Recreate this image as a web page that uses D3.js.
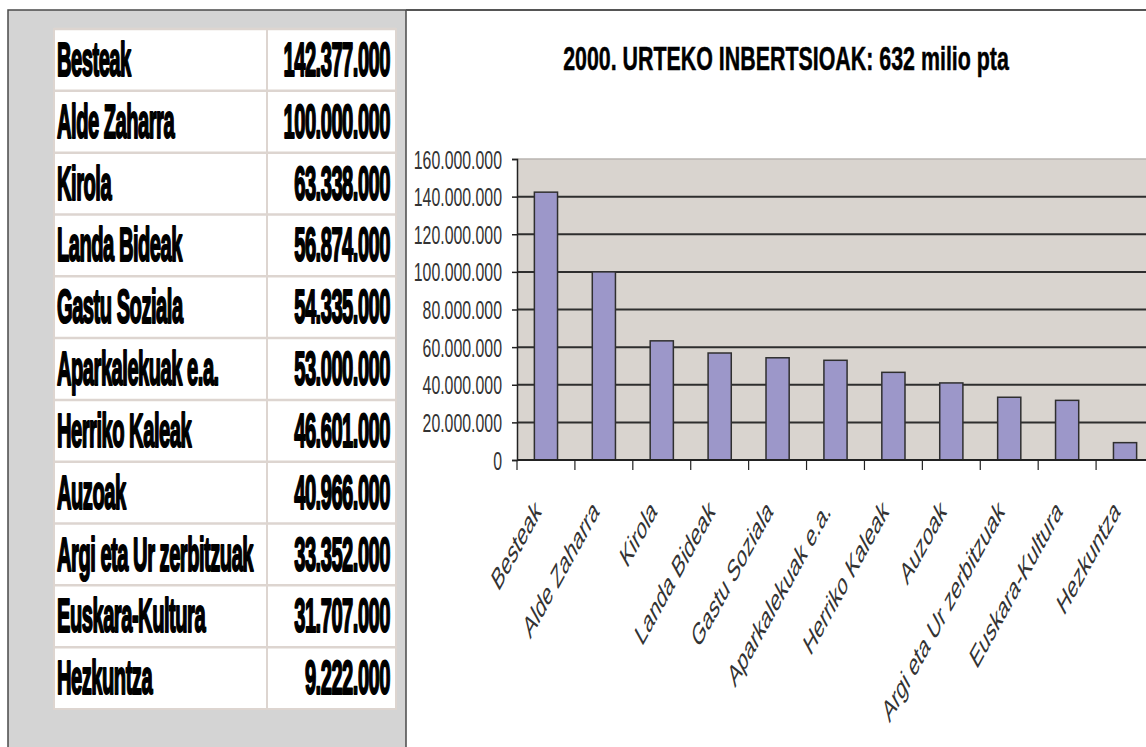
<!DOCTYPE html>
<html>
<head>
<meta charset="utf-8">
<script src="https://cdn.jsdelivr.net/npm/d3@7/dist/d3.min.js"></script>
<style>
  html, body { margin: 0; padding: 0; background: #fff; }
  svg { display: block; }
</style>
</head>
<body>
<svg id="chart" width="1146" height="747"></svg>
<script>
// ---- data ----
const categories = ["Besteak", "Alde Zaharra", "Kirola", "Landa Bideak", "Gastu Soziala",
  "Aparkalekuak e.a.", "Herriko Kaleak", "Auzoak", "Argi eta Ur zerbitzuak", "Euskara-Kultura", "Hezkuntza"];
const values = [142377000, 100000000, 63338000, 56874000, 54335000,
  53000000, 46601000, 40966000, 33352000, 31707000, 9222000];
const yTicks = [0, 20000000, 40000000, 60000000, 80000000, 100000000, 120000000, 140000000, 160000000];
const titleText = "2000. URTEKO INBERTSIOAK: 632 milio pta";

const locale = d3.formatLocale({ decimal: ",", thousands: ".", grouping: [3], currency: ["", ""] });
const fmt = locale.format(",d");

const svg = d3.select("#chart");
const FONT = "'Liberation Sans', Arial, sans-serif";

// ---- left panel (table) ----
svg.append("rect").attr("x", 8).attr("y", 10).attr("width", 398).attr("height", 745)
  .attr("fill", "#d4d4d4").attr("stroke", "#4a4a4a").attr("stroke-width", 1.5);

const tbl = { x0: 54, x1: 396, xMid: 267, y0: 29, y1: 709 };
const rowY = d3.scaleBand().domain(categories).range([tbl.y0, tbl.y1]);

svg.append("rect").attr("x", tbl.x0).attr("y", tbl.y0)
  .attr("width", tbl.x1 - tbl.x0).attr("height", tbl.y1 - tbl.y0)
  .attr("fill", "#fff").attr("stroke", "#ddd5d0").attr("stroke-width", 2);

const rows = svg.append("g").selectAll("g").data(categories).join("g");
rows.append("line").attr("x1", tbl.x0).attr("x2", tbl.x1)
  .attr("y1", d => rowY(d)).attr("y2", d => rowY(d))
  .attr("stroke", "#ddd5d0").attr("stroke-width", 2.5);
svg.append("line").attr("x1", tbl.xMid).attr("x2", tbl.xMid).attr("y1", tbl.y0).attr("y2", tbl.y1)
  .attr("stroke", "#ddd5d0").attr("stroke-width", 2);

const TSX = 0.42;
function tableText(sel) {
  sel.attr("font-family", FONT).attr("font-weight", "bold").attr("font-size", 48)
    .attr("letter-spacing", -1.2)
    .attr("fill", "#000").attr("stroke", "#000").attr("stroke-width", 2.2)
    .attr("stroke-linejoin", "round");
}
rows.append("g")
  .attr("transform", d => `translate(${tbl.x0 + 3},${rowY(d) + 47}) scale(${TSX},1)`)
  .append("text").text(d => d).call(tableText);
rows.append("g")
  .attr("transform", d => `translate(${tbl.x1 - 6},${rowY(d) + 47}) scale(${TSX},1)`)
  .append("text").text((d, i) => fmt(values[i]))
  .attr("text-anchor", "end").call(tableText);

// ---- right panel (chart) ----
svg.append("line").attr("x1", 406).attr("x2", 1146).attr("y1", 10).attr("y2", 10)
  .attr("stroke", "#555").attr("stroke-width", 2);

// title
const tg = svg.append("g").attr("transform", "translate(786,70)");
const tt = tg.append("text").text(titleText)
  .attr("text-anchor", "middle").attr("font-family", FONT).attr("font-weight", "bold")
  .attr("font-size", 34).attr("fill", "#000").attr("stroke", "#000").attr("stroke-width", 0.5);
const tw = tt.node().getComputedTextLength();
tg.attr("transform", `translate(786,70) scale(${446 / tw},1)`);

const plot = { left: 517, right: 1154, top: 159, bottom: 460 };
const x = d3.scaleBand().domain(categories).range([plot.left, plot.right])
  .paddingInner(0.6).paddingOuter(0.3);
const y = d3.scaleLinear().domain([0, 160000000]).range([plot.bottom, plot.top]);

svg.append("rect").attr("x", plot.left).attr("y", plot.top)
  .attr("width", plot.right - plot.left).attr("height", plot.bottom - plot.top)
  .attr("fill", "#d9d4cf");
svg.append("line").attr("x1", plot.left).attr("x2", plot.right)
  .attr("y1", plot.top).attr("y2", plot.top).attr("stroke", "#b8b4b0").attr("stroke-width", 1.5);

// gridlines
svg.append("g").selectAll("line").data(yTicks.slice(1, -1)).join("line")
  .attr("x1", plot.left).attr("x2", plot.right)
  .attr("y1", d => y(d)).attr("y2", d => y(d))
  .attr("stroke", "#2e2e2e").attr("stroke-width", 2);

// bars
svg.append("g").selectAll("rect").data(categories).join("rect")
  .attr("x", d => x(d)).attr("width", x.bandwidth())
  .attr("y", (d, i) => y(values[i])).attr("height", (d, i) => y(0) - y(values[i]))
  .attr("fill", "#9c97c9").attr("stroke", "#2f2f2f").attr("stroke-width", 1.5);

// y axis
const YSX = 0.635;
const yAxis = svg.append("g").attr("transform", `translate(${plot.left},0)`)
  .call(d3.axisLeft(y).tickValues(yTicks).tickSize(5).tickPadding(0)
    .tickFormat(d => d === 0 ? "0" : fmt(d)));
yAxis.select(".domain").attr("stroke", "#222").attr("stroke-width", 1.5);
yAxis.selectAll(".tick line").attr("stroke", "#222").attr("stroke-width", 1.5);
yAxis.selectAll(".tick text")
  .attr("font-family", FONT).attr("font-size", 25).attr("fill", "#333")
  .attr("x", -15 / YSX).attr("dy", "0.36em")
  .attr("transform", `scale(${YSX},1)`);

// x axis line and ticks at category boundaries
svg.append("line").attr("x1", plot.left).attr("x2", plot.right)
  .attr("y1", plot.bottom).attr("y2", plot.bottom).attr("stroke", "#222").attr("stroke-width", 2);
const step = x.step();
const bounds = categories.map(c => x(c) - x.paddingOuter() * step).concat([plot.right]);
svg.append("g").selectAll("line").data(bounds).join("line")
  .attr("x1", d => d).attr("x2", d => d).attr("y1", plot.bottom).attr("y2", plot.bottom + 10)
  .attr("stroke", "#222").attr("stroke-width", 1.2);

// x labels (slanted, compressed like the reference)
svg.append("g").selectAll("g").data(categories).join("g")
  .attr("transform", d => `translate(${x(d) + x.bandwidth() / 2 - 4},513) scale(0.55,1) rotate(-45)`)
  .append("text").text(d => d)
  .attr("text-anchor", "end")
  .attr("font-family", FONT).attr("font-size", 31).attr("fill", "#333");
</script>
</body>
</html>
